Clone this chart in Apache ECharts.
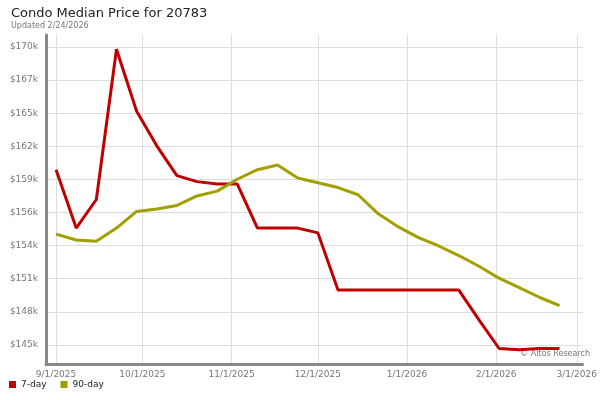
<!DOCTYPE html>
<html>
<head>
<meta charset="utf-8">
<script src="https://cdn.jsdelivr.net/npm/echarts@6/dist/echarts.min.js"></script>
<style>html,body{margin:0;padding:0;background:#fff}#chart{width:600px;height:400px}</style>
</head>
<body>
<div id="chart"></div>
<script>
// weekly dates, starting 9/1/2025
const startDate = '2025-09-01';
const sevenDay = [159.9, 155.0, 157.4, 170.0, 164.8, 161.9, 159.4, 158.9, 158.7, 158.7,
  155.0, 155.0, 155.0, 154.6, 149.8, 149.8, 149.8, 149.8, 149.8, 149.8, 149.8,
  147.3, 144.9, 144.8, 144.9, 144.9];
const ninetyDay = [154.5, 154.0, 153.9, 155.0, 156.4, 156.6, 156.9, 157.7, 158.1, 159.1,
  159.9, 160.3, 159.2, 158.8, 158.4, 157.8, 156.2, 155.1, 154.2, 153.5, 152.7,
  151.8, 150.8, 150.0, 149.2, 148.5];
const yTicks = [145.2, 147.98, 150.76, 153.53, 156.31, 159.09, 161.87, 164.64, 167.42, 170.2];
const xTicks = ['2025-09-01', '2025-10-01', '2025-11-01', '2025-12-01', '2026-01-01', '2026-02-01', '2026-03-01'];

const day = 86400000;
const t0 = new Date(startDate + 'T00:00:00Z').getTime();
const dates = sevenDay.map((_, i) => t0 + i * 7 * day);
const xTickTimes = xTicks.map(d => new Date(d + 'T00:00:00Z').getTime());

function fmtDate(v) {
  const d = new Date(v);
  return (d.getUTCMonth() + 1) + '/' + d.getUTCDate() + '/' + d.getUTCFullYear();
}

const chart = echarts.init(document.getElementById('chart'));
const font = 'DejaVu Sans';
chart.setOption({
  animation: false,
  textStyle: { fontFamily: font },
  title: {
    text: 'Condo Median Price for 20783',
    subtext: 'Updated 2/24/2026',
    left: 6, top: 2, itemGap: 2,
    textStyle: { fontSize: 13, fontWeight: 'normal', color: '#222', fontFamily: font },
    subtextStyle: { fontSize: 8, color: '#777', fontFamily: font }
  },
  legend: {
    left: 4, bottom: 6, itemWidth: 7, itemHeight: 7, itemGap: 14,
    icon: 'rect',
    textStyle: { fontSize: 9, color: '#222' },
    data: ['7-day', '90-day']
  },
  grid: { left: 46, right: 4, top: 35, bottom: 36 },
  xAxis: {
    type: 'value',
    min: t0 - 3.5 * day,
    max: xTickTimes[6] + 2 * day,
    axisLine: { lineStyle: { color: '#888', width: 3 } },
    axisTick: { show: false, customValues: xTickTimes },
    splitLine: { show: true, lineStyle: { color: '#ddd' } },
    axisLabel: { customValues: xTickTimes, formatter: fmtDate, fontSize: 9, color: '#777', margin: 6, hideOverlap: false }
  },
  yAxis: {
    type: 'value',
    min: 143.6, max: 171.2,
    axisLine: { show: true, lineStyle: { color: '#888', width: 3 } },
    axisTick: { show: false, customValues: yTicks },
    splitLine: { show: true, lineStyle: { color: '#ddd' } },
    axisLabel: { customValues: yTicks, formatter: v => '$' + Math.round(v) + 'k', fontSize: 9, color: '#777' }
  },
  graphic: [{
    type: 'text', right: 10, bottom: 42,
    style: { text: '© Altos Research', fontSize: 8, fill: '#777', fontFamily: font }
  }],
  series: [
    { name: '7-day', type: 'line', showSymbol: false, color: '#c00000',
      lineStyle: { width: 3 }, data: dates.map((d, i) => [d, sevenDay[i]]) },
    { name: '90-day', type: 'line', showSymbol: false, color: '#a0a000',
      lineStyle: { width: 3 }, data: dates.map((d, i) => [d, ninetyDay[i]]) }
  ]
});
</script>
</body>
</html>
